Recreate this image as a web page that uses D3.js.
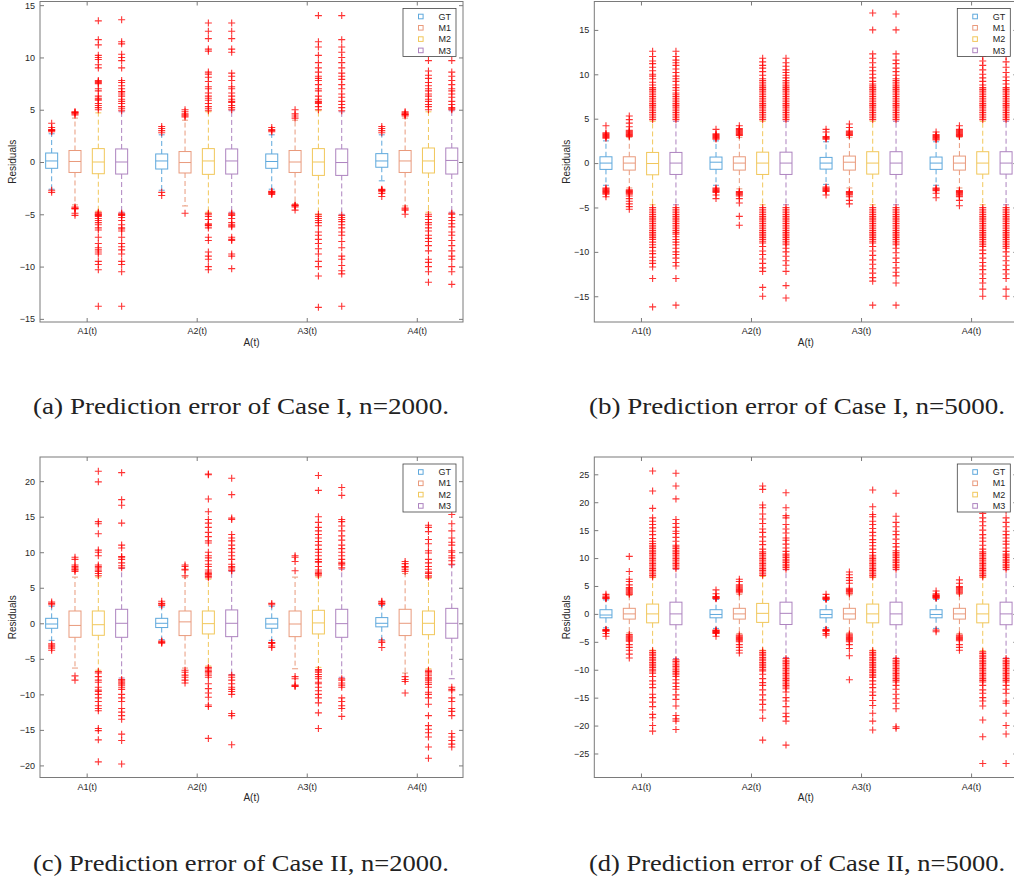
<!DOCTYPE html>
<html>
<head>
<meta charset="utf-8">
<script src="https://cdn.jsdelivr.net/npm/d3@7"></script>
<style>
  body { margin: 0; background: #fff; }
  svg { display: block; }
</style>
</head>
<body>
<svg id="fig" width="1014" height="881"></svg>
<script>
// ---- data ----
var groups = ['A1(t)', 'A2(t)', 'A3(t)', 'A4(t)'];
var methods = ['GT', 'M1', 'M2', 'M3'];
var captions = [
  '(a) Prediction error of Case I, n=2000.',
  '(b) Prediction error of Case I, n=5000.',
  '(c) Prediction error of Case II, n=2000.',
  '(d) Prediction error of Case II, n=5000.'
];

var yTicksA = [-15, -10, -5, 0, 5, 10, 15];
var yTicksB = [-15, -10, -5, 0, 5, 10, 15];
var yTicksC = [-20, -15, -10, -5, 0, 5, 10, 15, 20];
var yTicksD = [-25, -20, -15, -10, -5, 0, 5, 10, 15, 20, 25];
var yDomainA = [-15.3, 15.35];
var yDomainB = [-17.9, 18.2];
var yDomainC = [-21.7, 23.4];
var yDomainD = [-29.3, 28.1];

// each box: [lower whisker, q1, median, q3, upper whisker], order A1 GT,M1,M2,M3, A2 ...
var boxesA = [
  [-2.6, -0.6, 0.1, 0.86, 2.7], [-4.1, -1.0, 0.05, 1.1, 4.2], [-4.7, -1.12, 0, 1.28, 4.7], [-4.8, -1.15, 0, 1.25, 4.8],
  [-2.7, -0.67, 0.1, 0.77, 2.6], [-4.2, -1.05, -0.05, 1.0, 4.0], [-4.8, -1.18, 0.1, 1.28, 4.8], [-4.8, -1.15, 0.1, 1.25, 4.9],
  [-2.6, -0.6, 0.05, 0.77, 2.6], [-4.0, -1.0, 0, 1.1, 4.0], [-5.0, -1.28, 0, 1.28, 4.9], [-5.0, -1.28, -0.05, 1.25, 4.8],
  [-1.8, -0.5, 0.1, 0.8, 2.6], [-4.2, -1.0, 0.1, 1.1, 4.2], [-4.8, -1.05, 0.1, 1.34, 4.8], [-4.8, -1.15, 0.15, 1.34, 4.9]
];
var outliersA = [
  [2.9, 3.0, 3.05, 3.1, 3.3, 3.7, -2.7, -2.9],
  [4.5, 4.6, 4.7, 4.75, 4.8, -4.3, -4.4, -4.45, -4.5, -4.9, -5.1],
  [5.0, 5.2, 5.4, 5.6, 5.9, 6.0, 6.1, 6.3, 6.8, 7.0, 7.5, 7.6, 7.7, 7.8, 9.0, 9.3, 9.8, 10.0, 10.2, 11.2, 11.7, 13.5,
   -4.8, -4.9, -5.0, -5.05, -5.1, -5.2, -5.4, -5.6, -5.8, -6.0, -6.3, -6.5, -7.2, -7.8, -8.2, -8.4, -8.6, -8.8, -9.5, -9.8, -10.3, -13.8],
  [4.9, 5.1, 5.3, 5.6, 5.8, 6.0, 6.3, 6.5, 6.7, 6.75, 7.0, 7.3, 7.6, 7.8, 9.0, 9.7, 10.0, 10.3, 11.3, 11.5, 13.6,
   -4.9, -5.0, -5.05, -5.1, -5.3, -5.6, -6.0, -6.3, -6.4, -6.6, -7.2, -7.8, -8.1, -8.4, -8.8, -9.5, -9.8, -10.5, -13.8],
  [2.8, 3.0, 3.2, 3.4, -2.9, -3.2],
  [4.3, 4.4, 4.5, 4.6, 4.8, 5.0, -4.9],
  [4.9, 5.1, 5.3, 5.6, 5.9, 6.1, 6.3, 6.6, 7.0, 7.2, 7.7, 8.1, 8.4, 8.6, 10.6, 10.8, 11.8, 12.5, 13.3,
   -4.9, -5.0, -5.2, -5.5, -5.9, -6.0, -6.05, -6.1, -6.3, -7.2, -7.5, -8.6, -9.0, -9.3, -10.0, -10.3],
  [5.0, 5.2, 5.4, 5.7, 5.8, 6.0, 6.3, 6.6, 7.0, 7.2, 7.8, 8.2, 8.5, 10.5, 10.8, 11.8, 12.5, 13.3,
   -4.9, -5.0, -5.1, -5.4, -5.8, -6.0, -6.1, -6.2, -7.2, -7.4, -7.5, -8.8, -9.0, -10.2],
  [2.9, 3.0, 3.1, 3.3, -2.8, -2.85, -2.9, -3.0, -3.1],
  [4.2, 4.4, 4.6, 5.0, -4.1, -4.15, -4.2, -4.3, -4.6],
  [5.0, 5.3, 5.6, 5.7, 5.8, 6.0, 6.3, 6.8, 7.0, 7.4, 7.8, 8.0, 8.2, 8.6, 9.0, 9.5, 10.2, 11.0, 11.5, 14.0,
   -5.0, -5.2, -5.4, -5.6, -5.8, -6.1, -6.7, -7.0, -7.4, -7.8, -8.3, -8.8, -9.5, -10.0, -10.9, -13.9],
  [4.9, 5.2, 5.5, 5.8, 6.2, 6.5, 7.0, 7.4, 7.9, 8.2, 8.5, 9.0, 9.5, 10.0, 10.5, 11.0, 11.7, 14.0,
   -5.1, -5.3, -5.5, -5.7, -6.0, -6.3, -6.7, -7.0, -7.6, -8.2, -9.0, -9.3, -9.9, -10.4, -10.7, -13.8],
  [2.8, 3.0, 3.2, 3.4, -2.6, -2.65, -2.7, -2.75, -2.8, -3.0, -3.3],
  [4.4, 4.5, 4.55, 4.6, 4.7, 4.8, -4.4, -4.5, -4.6, -5.0],
  [5.0, 5.3, 5.5, 5.8, 6.0, 6.3, 6.5, 6.8, 7.0, 7.3, 7.6, 8.0, 8.3, 8.7, 9.7, 10.8, 12.1,
   -5.0, -5.2, -5.5, -5.8, -6.0, -6.3, -6.6, -7.0, -7.3, -7.6, -8.0, -8.5, -9.3, -9.6, -10.0, -10.5, -11.5],
  [5.0, 5.1, 5.2, 5.5, 5.8, 6.2, 6.5, 6.8, 7.0, 7.4, 7.8, 8.2, 8.6, 9.7, 11.0, 12.4,
   -4.9, -5.0, -5.3, -5.6, -5.9, -6.2, -6.7, -7.0, -7.5, -8.0, -8.5, -9.0, -9.3, -10.0, -10.5, -11.7]
];

var boxesB = [
  [-2.5, -0.71, 0, 0.71, 2.5], [-2.8, -0.79, 0, 0.71, 2.9], [-4.7, -1.32, -0.05, 1.2, 4.7], [-4.7, -1.28, 0, 1.2, 4.7],
  [-2.5, -0.7, 0.1, 0.68, 2.5], [-2.9, -0.79, 0, 0.71, 2.9], [-4.7, -1.28, 0, 1.23, 4.7], [-4.7, -1.28, 0, 1.23, 4.7],
  [-2.4, -0.68, 0, 0.64, 2.4], [-2.8, -0.79, 0.1, 0.79, 2.9], [-4.7, -1.24, 0, 1.28, 4.7], [-4.7, -1.28, 0, 1.28, 4.7],
  [-2.5, -0.71, 0, 0.68, 2.4], [-2.8, -0.79, 0, 0.79, 2.9], [-4.7, -1.24, 0, 1.28, 4.7], [-4.7, -1.24, 0, 1.28, 4.7]
];
var outliersB = [
  [2.8, 2.9, 3.0, 3.1, 3.2, 3.3, 3.4, 4.2, -2.8, -2.9, -3.0, -3.1, -3.2, -3.3, -3.4, -3.5, -3.8],
  [3.0, 3.1, 3.2, 3.3, 3.4, 3.5, 3.6, 3.7, 4.1, 4.5, 4.9, 5.3, -3.0, -3.1, -3.2, -3.3, -3.4, -3.5, -3.7, -4.0, -4.3, -4.6, -4.9, -5.2],
  [4.9, 5.1, 5.3, 5.5, 5.7, 5.9, 6.1, 6.3, 6.5, 6.7, 6.9, 7.1, 7.3, 7.5, 7.7, 7.9, 8.1, 8.3, 8.5, 8.8, 9.1, 9.5, 9.8, 10.0, 10.4, 10.8, 11.2, 11.5, 12.0, 12.6,
   -5.0, -5.2, -5.4, -5.6, -5.8, -6.0, -6.2, -6.4, -6.6, -6.8, -7.0, -7.2, -7.4, -7.6, -7.8, -8.0, -8.2, -8.4, -8.6, -8.9, -9.2, -9.5, -9.9, -10.2, -10.6, -11.0, -11.3, -11.7, -13.0, -16.2],
  [4.9, 5.1, 5.3, 5.5, 5.7, 5.9, 6.1, 6.3, 6.5, 6.7, 6.9, 7.1, 7.3, 7.5, 7.7, 7.9, 8.2, 8.5, 8.8, 9.2, 9.5, 9.8, 10.2, 10.6, 11.0, 11.3, 11.6, 12.0, 12.6,
   -5.0, -5.2, -5.4, -5.6, -5.8, -6.0, -6.2, -6.4, -6.6, -6.8, -7.0, -7.2, -7.4, -7.6, -7.8, -8.0, -8.3, -8.6, -8.9, -9.2, -9.6, -10.0, -10.3, -10.7, -11.2, -11.6, -13.0, -16.0],
  [2.7, 2.8, 2.9, 3.0, 3.1, 3.2, 3.3, 3.8, -2.8, -2.9, -3.0, -3.1, -3.2, -3.3, -3.6, -4.0],
  [3.1, 3.2, 3.3, 3.4, 3.5, 3.6, 3.7, 3.8, 3.9, 4.2, -3.2, -3.3, -3.4, -3.5, -3.6, -3.7, -4.0, -4.5, -6.0, -7.0],
  [4.9, 5.1, 5.3, 5.5, 5.7, 5.9, 6.1, 6.3, 6.5, 6.7, 6.9, 7.1, 7.3, 7.5, 7.7, 7.9, 8.1, 8.3, 8.5, 8.7, 8.9, 9.1, 9.3, 9.5, 9.9, 10.3, 10.7, 11.0, 11.4, 11.8,
   -5.0, -5.2, -5.4, -5.6, -5.8, -6.0, -6.2, -6.4, -6.6, -6.8, -7.0, -7.2, -7.4, -7.6, -7.8, -8.0, -8.2, -8.4, -8.6, -8.8, -9.0, -9.4, -9.9, -10.3, -10.8, -11.3, -11.8, -12.2, -14.0, -15.0],
  [4.9, 5.1, 5.3, 5.5, 5.7, 5.9, 6.1, 6.3, 6.5, 6.7, 6.9, 7.1, 7.3, 7.5, 7.7, 7.9, 8.1, 8.3, 8.5, 8.7, 8.9, 9.1, 9.3, 9.6, 9.9, 10.2, 10.5, 10.9, 11.3, 11.8,
   -5.0, -5.2, -5.4, -5.6, -5.8, -6.0, -6.2, -6.4, -6.6, -6.8, -7.0, -7.2, -7.4, -7.6, -7.8, -8.0, -8.2, -8.4, -8.6, -8.8, -9.0, -9.2, -9.6, -10.0, -10.5, -11.0, -11.5, -12.2, -13.8, -15.2],
  [2.7, 2.8, 2.9, 3.0, 3.5, 3.8, -2.7, -2.8, -2.9, -3.0, -3.1, -3.2, -3.6],
  [3.1, 3.2, 3.3, 3.4, 3.5, 3.6, 4.0, 4.4, -3.2, -3.3, -3.4, -3.5, -3.6, -3.8, -4.2, -4.6],
  [4.9, 5.1, 5.3, 5.5, 5.7, 5.9, 6.1, 6.3, 6.5, 6.7, 6.9, 7.1, 7.3, 7.5, 7.7, 7.9, 8.1, 8.3, 8.5, 8.7, 8.9, 9.2, 9.6, 10.0, 10.4, 10.8, 11.3, 11.8, 12.3, 15.0, 16.9,
   -5.0, -5.2, -5.4, -5.6, -5.8, -6.0, -6.2, -6.4, -6.6, -6.8, -7.0, -7.2, -7.4, -7.6, -7.8, -8.0, -8.2, -8.4, -8.6, -8.8, -9.0, -9.4, -9.9, -10.4, -10.9, -11.4, -11.9, -12.4, -12.9, -13.3, -16.0],
  [4.9, 5.1, 5.3, 5.5, 5.7, 5.9, 6.1, 6.3, 6.5, 6.7, 6.9, 7.1, 7.3, 7.5, 7.7, 7.9, 8.1, 8.3, 8.5, 8.7, 8.9, 9.1, 9.3, 9.5, 9.9, 10.3, 10.7, 11.2, 11.6, 12.3, 15.0, 16.8,
   -5.0, -5.2, -5.4, -5.6, -5.8, -6.0, -6.2, -6.4, -6.6, -6.8, -7.0, -7.2, -7.4, -7.6, -7.8, -8.0, -8.2, -8.4, -8.6, -8.8, -9.0, -9.2, -9.6, -10.1, -10.7, -11.2, -11.8, -12.3, -12.7, -13.5, -16.0],
  [2.6, 2.7, 2.8, 2.9, 3.0, 3.1, 3.2, 3.5, -2.8, -2.9, -3.0, -3.1, -3.4, -3.9],
  [3.0, 3.1, 3.2, 3.3, 3.4, 3.5, 3.6, 3.7, 3.8, 4.2, -3.1, -3.2, -3.3, -3.4, -3.5, -3.6, -3.7, -3.8, -4.2, -4.8],
  [4.9, 5.1, 5.3, 5.5, 5.7, 5.9, 6.1, 6.3, 6.5, 6.7, 6.9, 7.1, 7.3, 7.5, 7.7, 7.9, 8.1, 8.3, 8.5, 8.8, 9.2, 9.6, 10.0, 10.5, 11.0, 11.5, 12.0, 12.8, 13.5,
   -5.0, -5.2, -5.4, -5.6, -5.8, -6.0, -6.2, -6.4, -6.6, -6.8, -7.0, -7.2, -7.4, -7.6, -7.8, -8.0, -8.2, -8.4, -8.6, -8.8, -9.0, -9.2, -9.4, -9.8, -10.2, -10.7, -11.2, -11.6, -12.0, -12.5, -13.0, -13.5, -14.2, -15.0],
  [4.9, 5.1, 5.3, 5.5, 5.7, 5.9, 6.1, 6.3, 6.5, 6.7, 6.9, 7.1, 7.3, 7.5, 7.7, 7.9, 8.1, 8.3, 8.5, 8.9, 9.3, 9.7, 10.2, 10.8, 11.4, 12.0, 13.0,
   -5.0, -5.2, -5.4, -5.6, -5.8, -6.0, -6.2, -6.4, -6.6, -6.8, -7.0, -7.2, -7.4, -7.6, -7.8, -8.0, -8.2, -8.4, -8.6, -8.8, -9.0, -9.2, -9.4, -9.6, -10.0, -10.5, -11.0, -11.5, -12.0, -12.5, -13.0, -14.2, -15.0]
];

var boxesC = [
  [-2.4, -0.7, -0.1, 0.7, 2.4], [-6.3, -1.97, -0.3, 1.73, 6.5], [-6.6, -1.69, -0.2, 1.73, 6.5], [-7.7, -1.97, 0, 1.97, 7.7],
  [-2.3, -0.6, 0, 0.7, 2.3], [-6.3, -1.73, 0.2, 1.73, 6.5], [-6.0, -1.5, -0.05, 1.73, 6.2], [-7.2, -1.88, 0, 1.88, 7.3],
  [-2.4, -0.7, -0.1, 0.7, 2.4], [-6.4, -1.88, -0.1, 1.73, 6.5], [-6.2, -1.5, 0.05, 1.83, 6.5], [-7.6, -1.97, -0.05, 1.97, 7.6],
  [-2.3, -0.5, 0, 0.8, 2.5], [-7.0, -1.73, 0, 1.97, 7.0], [-6.4, -1.6, 0, 1.73, 6.3], [-7.8, -2.1, 0, 2.1, 8.2]
];
var outliersC = [
  [2.6, 2.8, 3.0, -2.9, -3.1, -3.3, -3.5, -3.8],
  [7.3, 7.5, 7.6, 7.8, 8.0, 8.2, 9.0, 9.3, -7.4, -8.0],
  [6.7, 7.0, 7.3, 7.5, 7.8, 8.0, 8.2, 9.5, 10.0, 10.3, 12.6, 14.0, 14.3, 19.9, 21.4,
   -6.8, -7.0, -7.5, -8.0, -8.3, -9.0, -9.4, -9.6, -10.0, -10.5, -11.0, -11.6, -12.0, -12.3, -14.8, -15.1, -16.4, -19.5],
  [7.8, 8.1, 8.5, 9.0, 9.3, 9.4, 10.6, 11.0, 14.1, 16.6, 17.4, 21.2,
   -7.9, -8.1, -8.3, -8.5, -8.7, -9.0, -9.3, -10.0, -10.5, -11.0, -12.0, -12.5, -13.0, -13.5, -15.6, -16.5, -19.8],
  [2.5, 2.7, 2.8, 3.1, -2.5, -2.6, -2.7, -2.8],
  [6.7, 7.5, 7.6, 8.0, 8.2, -6.6, -6.9, -7.3, -7.6, -8.0, -8.4],
  [6.4, 6.6, 6.8, 6.9, 7.0, 7.2, 7.5, 8.0, 8.3, 8.8, 9.2, 9.5, 10.0, 11.3, 11.6, 12.2, 12.8, 13.5, 14.1, 14.6, 15.7, 17.5, 20.9, 21.0,
   -6.2, -6.4, -6.6, -6.8, -7.0, -7.3, -7.6, -8.5, -9.2, -9.8, -10.4, -11.5, -11.7, -16.2],
  [7.4, 7.5, 7.8, 8.0, 8.3, 9.0, 9.5, 10.0, 10.5, 11.0, 11.6, 12.0, 12.5, 14.6, 14.8, 18.1, 20.4,
   -7.3, -7.6, -8.0, -8.5, -9.0, -9.3, -9.6, -10.0, -12.7, -13.0, -17.1],
  [2.6, 2.8, -2.7, -2.75, -2.8, -3.2, -3.4],
  [7.4, 8.7, 9.3, 9.5, -7.5, -7.8, -8.7, -8.8, -8.9],
  [6.7, 6.9, 7.0, 7.2, 7.5, 8.0, 8.6, 8.7, 9.0, 9.5, 10.0, 10.4, 11.0, 11.5, 12.0, 12.5, 13.0, 13.5, 14.2, 15.0, 18.7, 20.8,
   -6.5, -6.7, -6.9, -7.2, -7.5, -7.8, -8.3, -8.5, -9.0, -9.5, -10.0, -10.5, -11.2, -12.6, -14.8],
  [7.8, 8.2, 8.4, 8.6, 9.0, 9.5, 10.0, 10.5, 11.0, 11.7, 12.3, 13.0, 13.7, 14.3, 14.6, 18.0, 19.1,
   -7.8, -8.0, -8.4, -8.7, -9.0, -10.5, -11.0, -11.6, -12.0, -13.1],
  [2.7, 2.8, 3.0, 3.1, -2.5, -2.7, -3.4],
  [7.3, 7.6, 7.9, 8.0, 8.4, 8.7, -7.5, -7.9, -8.2, -9.8],
  [6.5, 6.7, 7.0, 7.2, 7.6, 8.0, 8.5, 9.0, 9.9, 10.2, 11.2, 11.8, 12.9, 13.5, 13.8,
   -6.6, -6.8, -7.0, -7.3, -7.6, -7.8, -8.0, -8.3, -8.6, -9.0, -9.7, -10.0, -10.5, -11.4, -13.0, -14.4, -14.9, -15.4, -16.0, -17.4, -19.0],
  [8.3, 8.8, 9.2, 9.5, 10.0, 10.2, 11.0, 11.4, 12.0, 13.0, 14.0, 15.3, 17.0,
   -9.0, -9.3, -9.5, -10.5, -11.0, -12.0, -12.4, -13.0, -15.5, -16.0, -16.5, -17.0, -17.4]
];

var boxesD = [
  [-2.5, -0.7, -0.2, 0.75, 2.5], [-3.4, -0.93, 0, 1.0, 3.3], [-6.5, -1.6, 0, 1.76, 6.5], [-8.0, -1.94, 0, 2.1, 8.0],
  [-2.6, -0.7, -0.1, 0.75, 2.6], [-3.5, -0.93, 0, 1.0, 3.5], [-6.5, -1.52, 0.1, 1.88, 6.7], [-7.8, -1.9, 0.1, 2.1, 7.9],
  [-2.5, -0.7, -0.1, 0.75, 2.4], [-3.4, -0.93, 0, 1.0, 3.4], [-6.5, -1.6, 0, 1.76, 6.5], [-7.9, -1.94, 0, 2.1, 7.9],
  [-2.6, -0.7, -0.1, 0.75, 2.6], [-3.5, -0.93, 0, 1.0, 3.5], [-6.6, -1.6, 0, 1.76, 6.5], [-7.9, -1.94, 0, 2.1, 7.9]
];
var outliersD = [
  [2.7, 2.8, 2.9, 3.0, 3.2, 3.5, -2.8, -2.9, -3.0, -3.1, -3.5, -4.0],
  [3.5, 3.7, 3.9, 4.1, 4.3, 4.5, 4.7, 5.2, 5.8, 6.2, 7.6, 10.3, -3.7, -3.9, -4.1, -4.3, -4.5, -4.7, -4.9, -5.5, -6.0, -6.5, -7.2, -7.9],
  [6.6, 6.9, 7.2, 7.5, 7.8, 8.1, 8.4, 8.7, 9.0, 9.3, 9.6, 9.9, 10.2, 10.5, 10.8, 11.1, 11.4, 11.7, 12.0, 12.3, 12.6,
   13.0, 13.5, 14.2, 14.8, 15.4, 16.0, 16.6, 17.2, 18.9, 22.0, 25.6,
   -6.6, -6.9, -7.2, -7.5, -7.8, -8.1, -8.4, -8.7, -9.0, -9.3, -9.6, -9.9, -10.2,
   -10.6, -11.2, -12.0, -12.6, -13.2, -14.4, -15.0, -15.8, -16.6, -18.0, -18.6, -20.0, -21.0],
  [8.1, 8.4, 8.7, 9.0, 9.3, 9.6, 9.9, 10.2, 10.5, 10.8, 11.1, 11.4, 11.7, 12.0, 12.3,
   13.0, 13.7, 14.4, 14.8, 15.5, 16.2, 16.9, 20.6, 22.9, 25.2,
   -8.2, -8.5, -8.8, -9.1, -9.4, -9.7, -10.0, -10.3, -10.6, -10.9, -11.2,
   -11.8, -12.4, -13.0, -13.5, -14.5, -15.3, -16.5, -18.2, -18.8, -19.2, -20.7],
  [2.7, 2.8, 2.9, 3.0, 3.1, 3.6, 4.3, -2.9, -3.0, -3.1, -3.2, -3.3, -3.4, -3.5, -4.0],
  [3.8, 4.0, 4.2, 4.4, 4.6, 4.8, 5.0, 5.2, 5.8, 6.2, -3.8, -4.0, -4.2, -4.4, -4.6, -4.8, -5.0, -5.5, -6.0, -6.5, -7.0],
  [6.9, 7.2, 7.5, 7.8, 8.1, 8.4, 8.7, 9.0, 9.3, 9.6, 9.9, 10.2, 10.5, 10.8, 11.1,
   11.6, 12.4, 13.0, 13.8, 14.6, 15.2, 16.2, 17.0, 17.9, 19.0, 19.5, 22.3, 22.9,
   -6.6, -6.9, -7.2, -7.5, -7.8, -8.1, -8.4, -8.7, -9.0, -9.3, -9.6, -9.9, -10.2,
   -10.8, -11.6, -12.3, -12.8, -13.6, -14.5, -15.4, -16.2, -17.2, -18.7, -22.6],
  [8.0, 8.3, 8.6, 8.9, 9.2, 9.5, 9.8, 10.1, 10.4, 10.7,
   11.2, 11.8, 12.5, 13.2, 13.6, 14.5, 15.2, 16.0, 17.2, 17.6, 19.0, 21.7,
   -8.0, -8.3, -8.6, -8.9, -9.2, -9.5, -9.8, -10.1, -10.4, -10.7, -11.0, -11.3, -11.6, -11.9, -12.2, -12.5, -12.8, -13.1, -13.4,
   -14.0, -15.0, -15.6, -16.6, -17.8, -18.4, -19.2, -23.5],
  [2.6, 2.7, 2.8, 2.9, 3.0, 3.5, -2.8, -2.9, -3.0, -3.1, -3.5, -3.8],
  [3.6, 3.8, 4.0, 4.2, 4.4, 4.6, 5.5, 6.0, 6.5, 7.0, 7.5, -3.6, -3.8, -4.0, -4.2, -4.4, -4.6, -4.8, -5.0, -5.5, -6.2, -7.5, -11.8],
  [6.6, 6.9, 7.2, 7.5, 7.8, 8.1, 8.4, 8.7, 9.0, 9.3, 9.6, 9.9, 10.2, 10.5,
   11.0, 11.6, 12.2, 12.8, 13.3, 14.0, 14.6, 15.3, 16.0, 16.6, 17.4, 17.8, 19.2, 22.2,
   -6.6, -6.9, -7.2, -7.5, -7.8, -8.1, -8.4, -8.7, -9.0, -9.3, -9.6, -9.9, -10.2, -10.5, -10.8, -11.1, -11.4,
   -12.0, -12.6, -13.2, -14.0, -14.6, -15.5, -16.4, -17.8, -19.2, -20.8],
  [8.0, 8.3, 8.6, 8.9, 9.2, 9.5, 9.8, 10.1, 10.4, 10.7, 11.0, 11.3,
   12.0, 12.6, 13.4, 14.2, 14.8, 15.6, 16.4, 17.5, 21.6,
   -8.0, -8.3, -8.6, -8.9, -9.2, -9.5, -9.8, -10.1, -10.4, -10.7, -11.0, -11.3, -11.6, -11.9, -12.2,
   -12.8, -13.5, -14.4, -15.2, -16.0, -17.0, -20.2, -20.5],
  [2.8, 2.9, 3.0, 3.1, 3.2, 3.3, 3.4, 3.6, 4.1, -2.9, -3.2],
  [3.7, 3.9, 4.1, 4.3, 4.5, 4.7, 4.9, 5.5, 6.1, -3.8, -4.0, -4.2, -4.4, -4.6, -4.8, -5.5, -6.0, -6.5],
  [6.6, 6.9, 7.2, 7.5, 7.8, 8.1, 8.4, 8.7, 9.0, 9.3, 9.6, 9.9, 10.2, 10.5, 10.8, 11.1,
   11.6, 12.3, 13.0, 13.6, 14.2, 15.0, 15.8, 16.5, 17.2, 18.0, 19.5, 21.0,
   -6.8, -7.1, -7.4, -7.7, -8.0, -8.3, -8.6, -8.9, -9.2, -9.5, -9.8, -10.1, -10.4, -10.7, -11.0, -11.3, -11.6, -11.9, -12.2,
   -12.8, -13.6, -14.2, -15.0, -15.6, -16.5, -19.0, -22.0, -26.8],
  [8.0, 8.3, 8.6, 8.9, 9.2, 9.5, 9.8, 10.1, 10.4, 10.7,
   11.2, 11.8, 12.5, 13.0, 13.6, 14.2, 14.8, 15.6, 16.4, 17.2, 18.5,
   -8.0, -8.3, -8.6, -8.9, -9.2, -9.5, -9.8, -10.1, -10.4, -10.7, -11.0, -11.3, -11.6, -11.9, -12.2,
   -12.8, -13.5, -14.2, -15.6, -16.0, -17.8, -20.0, -21.5, -26.8]
];

// ---- drawing ----
var colors = ['#5ea8dc', '#e99a7c', '#f1c75a', '#ad83bf'];
var W = 423, H = 320.5;
var panels = [
  { left: 40, top: 1.5, dom: yDomainA, ticks: yTicksA, boxes: boxesA, outs: outliersA, capX: 241, capY: 414 },
  { left: 594.3, top: 1.5, dom: yDomainB, ticks: yTicksB, boxes: boxesB, outs: outliersB, capX: 797, capY: 414 },
  { left: 40, top: 457, dom: yDomainC, ticks: yTicksC, boxes: boxesC, outs: outliersC, capX: 241, capY: 871 },
  { left: 594.3, top: 457, dom: yDomainD, ticks: yTicksD, boxes: boxesD, outs: outliersD, capX: 797, capY: 871 }
];

var svg = d3.select('#fig');
var sans = "'Liberation Sans', Arial, sans-serif";
var serif = "'Liberation Serif', 'Times New Roman', serif";

panels.forEach(function(p, pi) {
  var x = d3.scaleLinear().domain([0.576, 4.42]).range([p.left, p.left + W]);
  var y = d3.scaleLinear().domain(p.dom).range([p.top + H, p.top]);
  var g = svg.append('g');
  var boxW = 12;

  // axes frame and ticks (inward, all four sides)
  var yl = g.append('g').attr('transform', 'translate(' + p.left + ',0)')
    .call(d3.axisLeft(y).tickValues(p.ticks).tickSize(-4).tickPadding(5));
  var yr = g.append('g').attr('transform', 'translate(' + (p.left + W) + ',0)')
    .call(d3.axisRight(y).tickValues(p.ticks).tickSize(-4).tickFormat(''));
  var xb = g.append('g').attr('transform', 'translate(0,' + (p.top + H) + ')')
    .call(d3.axisBottom(x).tickValues([1, 2, 3, 4]).tickSize(-4).tickPadding(6)
      .tickFormat(function(d) { return groups[d - 1]; }));
  var xt = g.append('g').attr('transform', 'translate(0,' + p.top + ')')
    .call(d3.axisTop(x).tickValues([1, 2, 3, 4]).tickSize(-4).tickFormat(''));
  [yl, yr, xb, xt].forEach(function(a) {
    a.select('.domain').remove();
    a.selectAll('line').attr('stroke', '#7a7a7a');
    a.selectAll('text').attr('fill', '#262626').style('font-family', sans).style('font-size', '9px');
  });
  g.append('rect')
    .attr('x', p.left).attr('y', p.top).attr('width', W).attr('height', H)
    .attr('fill', 'none').attr('stroke', '#7a7a7a').attr('stroke-width', 1);

  // boxes
  p.boxes.forEach(function(b, i) {
    var gi = Math.floor(i / 4), mi = i % 4;
    var cx = x(gi + 1 + (mi - 1.5) * 0.212);
    var c = colors[mi];
    var bg = g.append('g').attr('stroke', c).attr('fill', 'none').attr('stroke-width', 1);
    bg.append('line').attr('x1', cx).attr('x2', cx).attr('y1', y(b[3])).attr('y2', y(b[4]))
      .attr('stroke-dasharray', '5,3');
    bg.append('line').attr('x1', cx).attr('x2', cx).attr('y1', y(b[1])).attr('y2', y(b[0]))
      .attr('stroke-dasharray', '5,3');
    bg.append('line').attr('x1', cx - boxW / 4).attr('x2', cx + boxW / 4).attr('y1', y(b[4])).attr('y2', y(b[4]));
    bg.append('line').attr('x1', cx - boxW / 4).attr('x2', cx + boxW / 4).attr('y1', y(b[0])).attr('y2', y(b[0]));
    bg.append('rect').attr('x', cx - boxW / 2).attr('y', y(b[3]))
      .attr('width', boxW).attr('height', y(b[1]) - y(b[3]));
    bg.append('line').attr('x1', cx - boxW / 2).attr('x2', cx + boxW / 2).attr('y1', y(b[2])).attr('y2', y(b[2]));
  });

  // outliers as red '+'
  var og = g.append('g').attr('stroke', '#ff0000').attr('stroke-width', 1.1).attr('stroke-opacity', 0.8);
  p.outs.forEach(function(list, i) {
    var gi = Math.floor(i / 4), mi = i % 4;
    var cx = x(gi + 1 + (mi - 1.5) * 0.212);
    list.forEach(function(v) {
      var cy = y(v);
      og.append('path').attr('d', 'M' + (cx - 3.5) + ',' + cy + 'H' + (cx + 3.5) + 'M' + cx + ',' + (cy - 3.5) + 'V' + (cy + 3.5));
    });
  });

  // legend
  var lx = p.left + W - 60, ly = p.top + 7;
  var lg = g.append('g');
  lg.append('rect').attr('x', lx).attr('y', ly).attr('width', 53).attr('height', 48)
    .attr('fill', '#fff').attr('stroke', '#444').attr('stroke-width', 0.8);
  methods.forEach(function(m, mi) {
    var ry = ly + 8 + mi * 11.3;
    lg.append('rect').attr('x', lx + 15.5).attr('y', ry - 2.3).attr('width', 4.6).attr('height', 4.6)
      .attr('fill', 'none').attr('stroke', colors[mi]).attr('stroke-width', 1);
    lg.append('text').attr('x', lx + 48).attr('y', ry).attr('dy', '0.35em')
      .attr('text-anchor', 'end').attr('fill', '#262626')
      .style('font-family', sans).style('font-size', '9px').text(m);
  });

  // axis titles
  g.append('text').attr('x', p.left + W / 2).attr('y', p.top + H + 20).attr('dy', '0.35em')
    .attr('text-anchor', 'middle').attr('fill', '#262626')
    .style('font-family', sans).style('font-size', '10px').text('A(t)');
  g.append('text')
    .attr('transform', 'translate(' + (p.left - 28) + ',' + (p.top + H / 2) + ') rotate(-90)')
    .attr('dy', '0.35em').attr('text-anchor', 'middle').attr('fill', '#262626')
    .style('font-family', sans).style('font-size', '10px').text('Residuals');

  // caption
  svg.append('text').attr('x', p.capX).attr('y', p.capY)
    .attr('text-anchor', 'middle').attr('fill', '#222')
    .attr('textLength', 416).attr('lengthAdjust', 'spacingAndGlyphs')
    .style('font-family', serif).style('font-size', '23px')
    .text(captions[pi]);
});
</script>
</body>
</html>
